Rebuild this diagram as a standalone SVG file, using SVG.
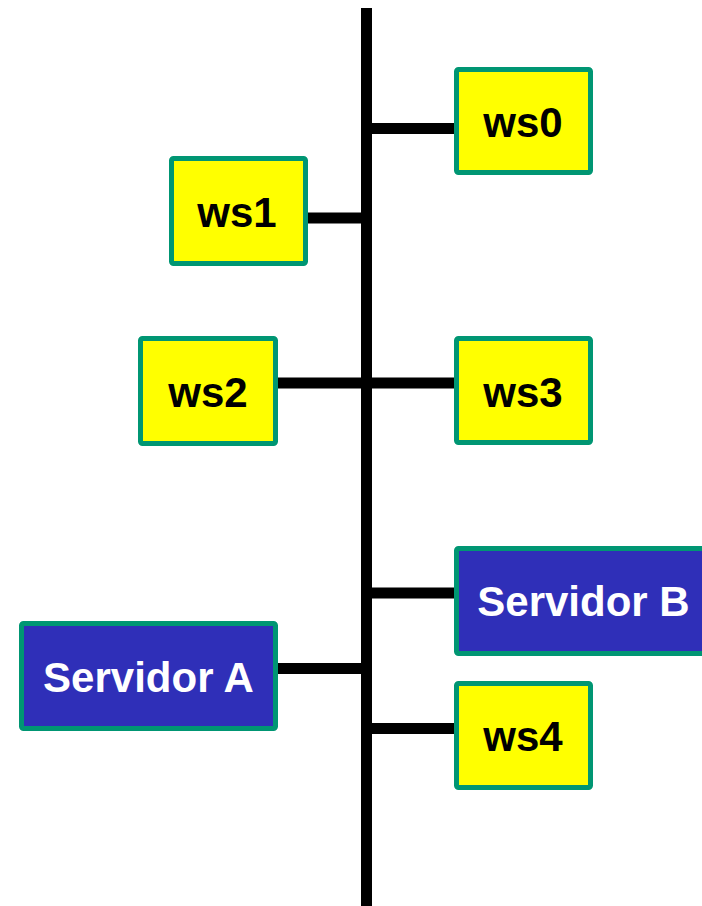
<svg xmlns="http://www.w3.org/2000/svg" width="702" height="906" viewBox="0 0 702 906">
<style>
.box{stroke:#009673;stroke-width:5}
.ws{fill:#FFFF00}
.srv{fill:#2F2FB8}
.t{font-family:"Liberation Sans",Arial,sans-serif;font-weight:bold;font-size:42px;text-anchor:middle}
.tw{fill:#000}
.ts{fill:#FFF}
.c{stroke:#000;stroke-width:11;fill:none}
</style>
<rect width="702" height="906" fill="#FFF"/>
<g id="connectors">
<line class="c" x1="366.5" y1="8" x2="366.5" y2="906"/>
<line class="c" x1="366" y1="128.5" x2="456" y2="128.5"/>
<line class="c" x1="306" y1="218" x2="367" y2="218"/>
<line class="c" x1="276" y1="383" x2="456" y2="383"/>
<line class="c" x1="366" y1="593" x2="456" y2="593"/>
<line class="c" x1="276" y1="668.5" x2="367" y2="668.5"/>
<line class="c" x1="366" y1="728.5" x2="456" y2="728.5"/>
</g>
<g id="ws0"><rect class="box ws" x="456.5" y="69.5" width="134" height="103" rx="2"/><text class="t tw" x="523" y="137">ws0</text></g>
<g id="ws1"><rect class="box ws" x="171.5" y="158.5" width="134" height="105" rx="2"/><text class="t tw" x="237" y="227">ws1</text></g>
<g id="ws2"><rect class="box ws" x="140.5" y="338.5" width="135" height="105" rx="2"/><text class="t tw" x="208" y="407">ws2</text></g>
<g id="ws3"><rect class="box ws" x="456.5" y="338.5" width="134" height="104" rx="2"/><text class="t tw" x="523" y="406.5">ws3</text></g>
<g id="servidorB"><rect class="box srv" x="456.5" y="548.5" width="260" height="105" rx="2"/><text class="t ts" x="583.5" y="616">Servidor B</text></g>
<g id="servidorA"><rect class="box srv" x="21.5" y="623.5" width="254" height="105" rx="2"/><text class="t ts" x="148.5" y="692">Servidor A</text></g>
<g id="ws4"><rect class="box ws" x="456.5" y="683.5" width="134" height="104" rx="2"/><text class="t tw" x="523" y="751">ws4</text></g>
</svg>
